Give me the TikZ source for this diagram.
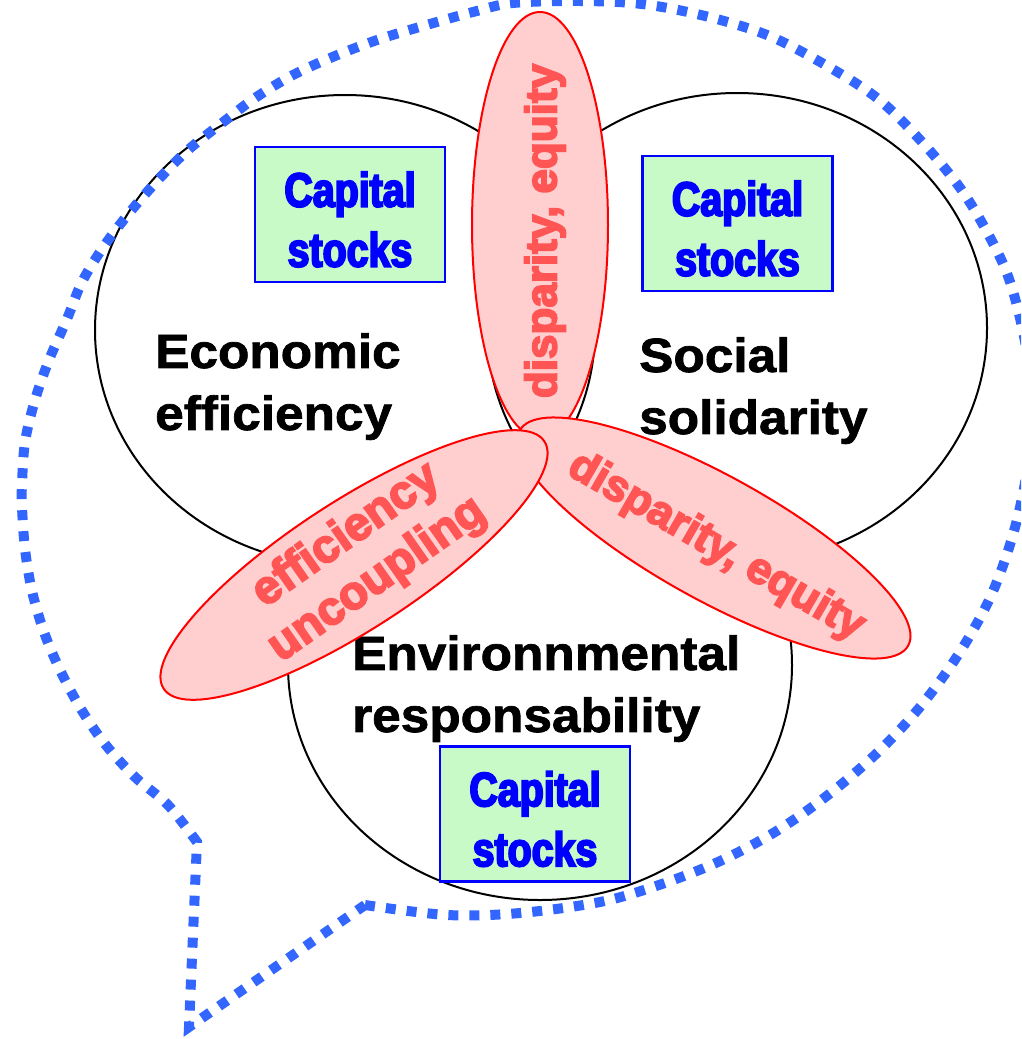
\documentclass[tikz,border=0pt]{standalone}
\usepackage{fontspec}
\setmainfont{Liberation Sans}
\newfontfamily\blackfont{Liberation Sans}[FakeStretch=1.07,FakeBold=1.5]
\newfontfamily\capfont{Liberation Sans}[FakeStretch=0.82,FakeBold=4]
\newfontfamily\redfont{Liberation Sans}[FakeBold=4]
\usetikzlibrary{shapes.geometric}
\definecolor{bubbleblue}{RGB}{51,102,255}
\definecolor{redtxt}{RGB}{255,85,85}
\definecolor{redfill}{RGB}{255,206,206}
\definecolor{greenfill}{RGB}{200,250,200}
\tikzset{
 circ/.style={draw=black, line width=2pt, ellipse, inner sep=0pt},
 redell/.style={draw=red, line width=2pt, fill=redfill, ellipse, inner sep=0pt},
 redlab/.style={text=redtxt, font=\redfont\bfseries\fontsize{44}{52}\selectfont, align=center, inner sep=0pt},
 capbox/.style={draw=blue, line width=2.4pt, fill=greenfill, minimum width=190pt, minimum height=135pt, inner sep=0pt},
 captext/.style={text=blue, font=\capfont\bfseries\fontsize{48}{60}\selectfont, align=center, inner sep=0pt},
 biglab/.style={font=\blackfont\bfseries\fontsize{48}{62}\selectfont, align=left, inner sep=0pt, anchor=north west},
 bubble/.style={draw=bubbleblue, line width=10pt, dash pattern=on 10pt off 11pt},
}
\begin{document}
\begin{tikzpicture}[x=1pt,y=-1pt]
\useasboundingbox (0,0) rectangle (1021,1039);
\clip (0,0) rectangle (1021,1039);
% circles
\node[circ, minimum width=500pt, minimum height=470pt] (econ) at (345,330) {};
\node[circ, minimum width=500pt, minimum height=470pt] (soc) at (737,328) {};
\node[circ, minimum width=504pt, minimum height=470pt] (env) at (540,665) {};
% capital stock boxes
\node[capbox] (cap1) at (350,214.5) {};
\node[captext, yshift=-5pt] (cap1t) at (cap1.center) {Capital\\stocks};
\node[capbox] (cap2) at (737.5,223.5) {};
\node[captext, yshift=-5pt] (cap2t) at (cap2.center) {Capital\\stocks};
\node[capbox] (cap3) at (535,814) {};
\node[captext, yshift=-5pt] (cap3t) at (cap3.center) {Capital\\stocks};
% main labels
\node[biglab] (econlab) at (155,333) {Economic\\efficiency};
\node[biglab] (soclab) at (639,337) {Social\\solidarity};
\node[biglab] (envlab) at (352,635) {Environnmental\\responsability};
% red overlaps
\node[redell, minimum width=136pt, minimum height=426pt] (dispv) at (540,225) {};
\node[redlab, rotate=90] (dispvt) at (545,231) {disparity, equity};
\node[redell, minimum width=444pt, minimum height=124pt, rotate=-29] (dispr) at (714,538) {};
\node[redlab, rotate=-30] (disprt) at (716,547) {disparity, equity};
\node[redell, minimum width=454pt, minimum height=128pt, rotate=33] (effl) at (354,565) {};
\node[redlab, rotate=35, font=\redfont\bfseries\fontsize{47}{54}\selectfont] (efft) at (362,558) {efficiency\\uncoupling};
% speech bubble
\draw[bubble] plot[smooth, tension=0.55] coordinates {(365,905) (447,915) (520,913) (600,902) (659,885) (718,862) (775,832) (828,795) (877,753) (920,707) (958,655) (990,598) (1012,538) (1026,477) (1033,410) (1026,347) (1012,288) (995,247) (963,192) (922,142) (877,98) (822,63) (767,35) (705,16) (642,4) (580,1) (513,3) (473,12) (430,24) (380,39) (335,56) (293,75) (255,98) (222,123) (188,150) (158,180) (130,212) (104,246) (82,282) (67,319) (49,360) (35,400) (25,442) (22,484) (22,507) (25,549) (32,591) (44,632) (60,670) (81,709) (105,744) (135,777) (168,805) (197,842)}
 -- (189,1027) -- cycle;
\end{tikzpicture}
\end{document}
